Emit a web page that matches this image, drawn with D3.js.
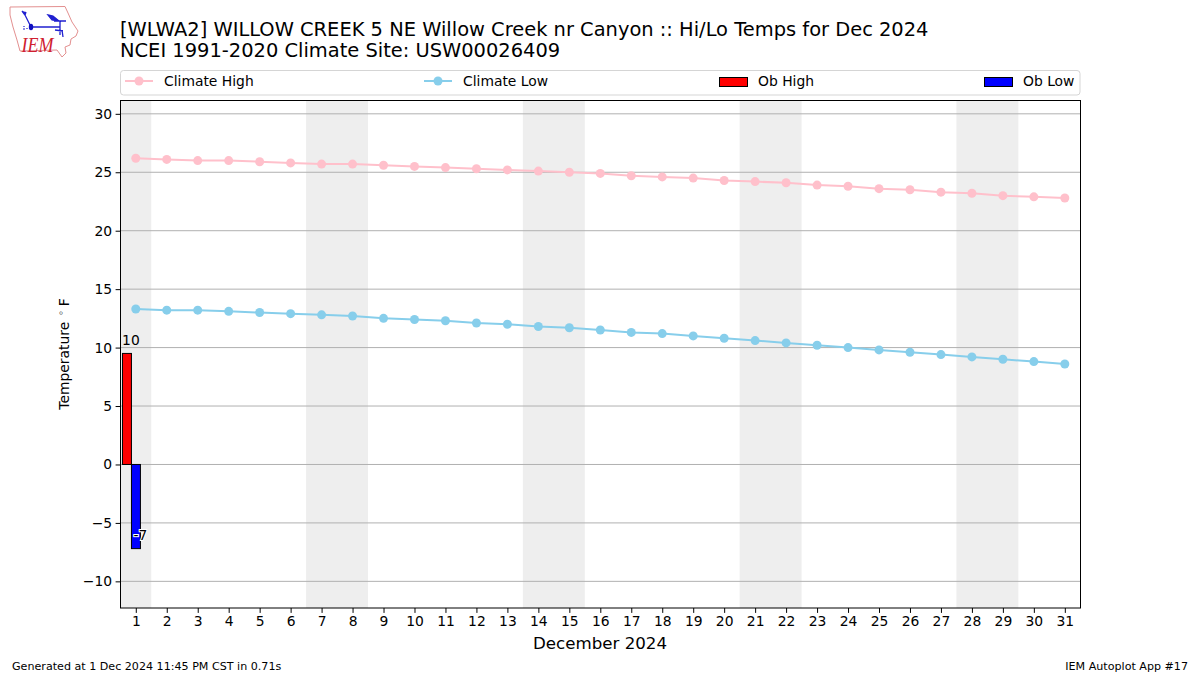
<!DOCTYPE html>
<html><head><meta charset="utf-8">
<script src="https://cdn.jsdelivr.net/npm/d3@7"></script>
<style>html,body{margin:0;padding:0;background:#fff}svg{display:block}text{font-family:"DejaVu Sans",sans-serif;fill:#000}</style>
</head><body><svg id="c" width="1200" height="675"></svg>
<script>
const days = d3.range(1, 32);
const climateHigh = [26.2,26.1,26.0,26.0,25.9,25.8,25.7,25.7,25.6,25.5,25.4,25.3,25.2,25.1,25.0,24.9,24.7,24.6,24.5,24.3,24.2,24.1,23.9,23.8,23.6,23.5,23.3,23.2,23.0,22.9,22.8];
const climateLow = [13.3,13.2,13.2,13.1,13.0,12.9,12.8,12.7,12.5,12.4,12.3,12.1,12.0,11.8,11.7,11.5,11.3,11.2,11.0,10.8,10.6,10.4,10.2,10.0,9.8,9.6,9.4,9.2,9.0,8.8,8.6];
const obDays = [1];
const obHigh = [9.5];
const obLow = [-7.2];
const obHighLabels = ["10"];
const obLowLabels = ["-7"];
const weekends = [[0.5,1.5],[6.5,8.5],[13.5,15.5],[20.5,22.5],[27.5,29.5]];
const yTicks = [-10,-5,0,5,10,15,20,25,30];
const titleLines = ["[WLWA2] WILLOW CREEK 5 NE Willow Creek nr Canyon :: Hi/Lo Temps for Dec 2024","NCEI 1991-2020 Climate Site: USW00026409"];

const svg = d3.select("#c");
const L=120.5,R=1080.5,T=100.5,B=608;
const x = d3.scaleLinear().domain([0.5,31.5]).range([120.3,1080.3]);
const y = d3.scaleLinear().domain([-12.28,31.14]).range([B,T]);

// plot
svg.selectAll("rect.wk").data(weekends).join("rect").attr("class","wk")
  .attr("x",d=>x(d[0])).attr("width",d=>x(d[1])-x(d[0])).attr("y",T).attr("height",B-T).attr("fill","#eeeeee");
svg.selectAll("line.g").data(yTicks).join("line").attr("class","g")
  .attr("x1",L).attr("x2",R).attr("y1",d=>y(d)).attr("y2",d=>y(d)).attr("stroke","#b0b0b0").attr("stroke-width",1);

const bw = x(1.29)-x(1);
const split = d=>x(d-0.14);
svg.selectAll("rect.hi").data(obDays).join("rect").attr("class","hi")
  .attr("x",d=>split(d)-bw).attr("width",bw).attr("y",(d,i)=>y(obHigh[i])).attr("height",(d,i)=>y(0)-y(obHigh[i]))
  .attr("fill","#ff0000").attr("stroke","#000").attr("stroke-width",1);
svg.selectAll("rect.lo").data(obDays).join("rect").attr("class","lo")
  .attr("x",d=>split(d)).attr("width",bw).attr("y",y(0)).attr("height",(d,i)=>y(obLow[i])-y(0))
  .attr("fill","#0000ff").attr("stroke","#000").attr("stroke-width",1);

function series(vals,color){
  const line=d3.line().x((d,i)=>x(days[i])).y(d=>y(d));
  svg.append("path").attr("d",line(vals)).attr("fill","none").attr("stroke",color).attr("stroke-width",2);
  svg.append("g").selectAll("circle").data(vals).join("circle")
    .attr("cx",(d,i)=>x(days[i])).attr("cy",d=>y(d)).attr("r",4.5).attr("fill",color);
}
series(climateHigh,"#ffc0cb");
series(climateLow,"#87ceeb");

// bar labels
svg.selectAll("text.hl").data(obDays).join("text").attr("class","hl")
  .attr("x",d=>split(d)-0.5).attr("y",(d,i)=>y(obHigh[i])-8).attr("text-anchor","middle").attr("font-size",13.89)
  .text((d,i)=>obHighLabels[i]);
svg.selectAll("text.ll").data(obDays).join("text").attr("class","ll")
  .attr("x",d=>split(d)+bw).attr("y",(d,i)=>y(obLow[i])-8.5).attr("text-anchor","middle").attr("font-size",13.89)
  .attr("stroke","#fff").attr("stroke-width",2).attr("paint-order","stroke")
  .text((d,i)=>obLowLabels[i]);

// frame
svg.append("rect").attr("x",L).attr("y",T).attr("width",R-L).attr("height",B-T).attr("fill","none").attr("stroke","#000").attr("stroke-width",1);

// axes
const ax = svg.append("g").attr("transform",`translate(0,${B})`)
  .call(d3.axisBottom(x).tickValues(days).tickFormat(d3.format("d")).tickSize(4.9).tickPadding(3.5));
const ay = svg.append("g").attr("transform",`translate(${L},0)`)
  .call(d3.axisLeft(y).tickValues(yTicks).tickFormat(d=>d<0?"\u2212"+(-d):d).tickSize(4.9).tickPadding(3.5));
[ax,ay].forEach(g=>{g.select(".domain").remove();g.selectAll("line").attr("stroke","#000");
  g.selectAll("text").attr("font-size",13.89).attr("font-family","DejaVu Sans");});

svg.append("text").attr("x",600).attr("y",649).attr("text-anchor","middle").attr("font-size",16.67).text("December 2024");
const yl=svg.append("text").attr("transform","translate(68.5,354) rotate(-90)").attr("text-anchor","middle").attr("font-size",13.89);
yl.append("tspan").text("Temperature ");
yl.append("tspan").attr("font-size",9.7).attr("dy",-5).attr("dx",1.5).attr("fill","#555").text("\u2218");
yl.append("tspan").attr("dy",5).attr("dx",3.5).text("F");

// titles
titleLines.forEach((t,i)=>svg.append("text").attr("x",120).attr("y",35.5+i*21.7).attr("font-size",19.44).text(t));

// legend
svg.append("rect").attr("x",L).attr("y",70.5).attr("width",R-L-0.5).attr("height",24.5).attr("rx",3).attr("fill","#fff").attr("stroke","#d5d5d5").attr("stroke-width",1);
const legendItems=[
 {label:"Climate High",kind:"line",color:"#ffc0cb",x:125},
 {label:"Climate Low",kind:"line",color:"#87ceeb",x:424},
 {label:"Ob High",kind:"bar",color:"#ff0000",x:719},
 {label:"Ob Low",kind:"bar",color:"#0000ff",x:984}];
legendItems.forEach(it=>{
  if(it.kind==="line"){
    svg.append("line").attr("x1",it.x).attr("x2",it.x+28).attr("y1",81).attr("y2",81).attr("stroke",it.color).attr("stroke-width",2);
    svg.append("circle").attr("cx",it.x+14).attr("cy",81).attr("r",4.5).attr("fill",it.color);
  } else {
    svg.append("rect").attr("x",it.x+.5).attr("y",77.5).attr("width",28).attr("height",9).attr("fill",it.color).attr("stroke","#000").attr("stroke-width",1);
  }
  svg.append("text").attr("x",it.x+39).attr("y",86).attr("font-size",13.89).text(it.label);
});

// footer
svg.append("text").attr("x",12).attr("y",670).attr("font-size",11.11).text("Generated at 1 Dec 2024 11:45 PM CST in 0.71s");
svg.append("text").attr("x",1188).attr("y",670).attr("text-anchor","end").attr("font-size",11.11).text("IEM Autoplot App #17");

// logo
const logo=svg.append("g");
logo.append("path").attr("d","M10,7 L65,6.5 L68,13 L72,22 L78,31 L76,36 L71,39 L70,45 L65,47 L66,53 L62,57 L57,50 L20,51 L17,40 L13,27 L10,15 Z")
  .attr("fill","#fff").attr("stroke","#e39090").attr("stroke-width",1);
logo.append("path").attr("d","M31,27 L60,27 M48,15 L53,16 L59,21 L52,20 Z M54,21 L66,21 M60,21 L60,35 M55,30 L63,31 M62,30 L63,37 M25,15 L30,25 M22,11 L25,15 L26,12")
  .attr("fill","#2020d0").attr("stroke","#2020d0").attr("stroke-width",1.3);
logo.append("ellipse").attr("cx",31).attr("cy",27).attr("rx",2.2).attr("ry",3.2).attr("fill","#1010c0");
logo.append("path").attr("d","M23,29 L25,29 M24,26 L24,27 M27,28 L27,29").attr("stroke","#2020d0").attr("stroke-width",1.2);
logo.append("text").attr("x",21.5).attr("y",52).attr("font-size",22).attr("textLength",32).attr("lengthAdjust","spacingAndGlyphs").style("font-family","Liberation Serif").style("font-style","italic").style("fill","#d02030").text("IEM");
</script></body></html>
